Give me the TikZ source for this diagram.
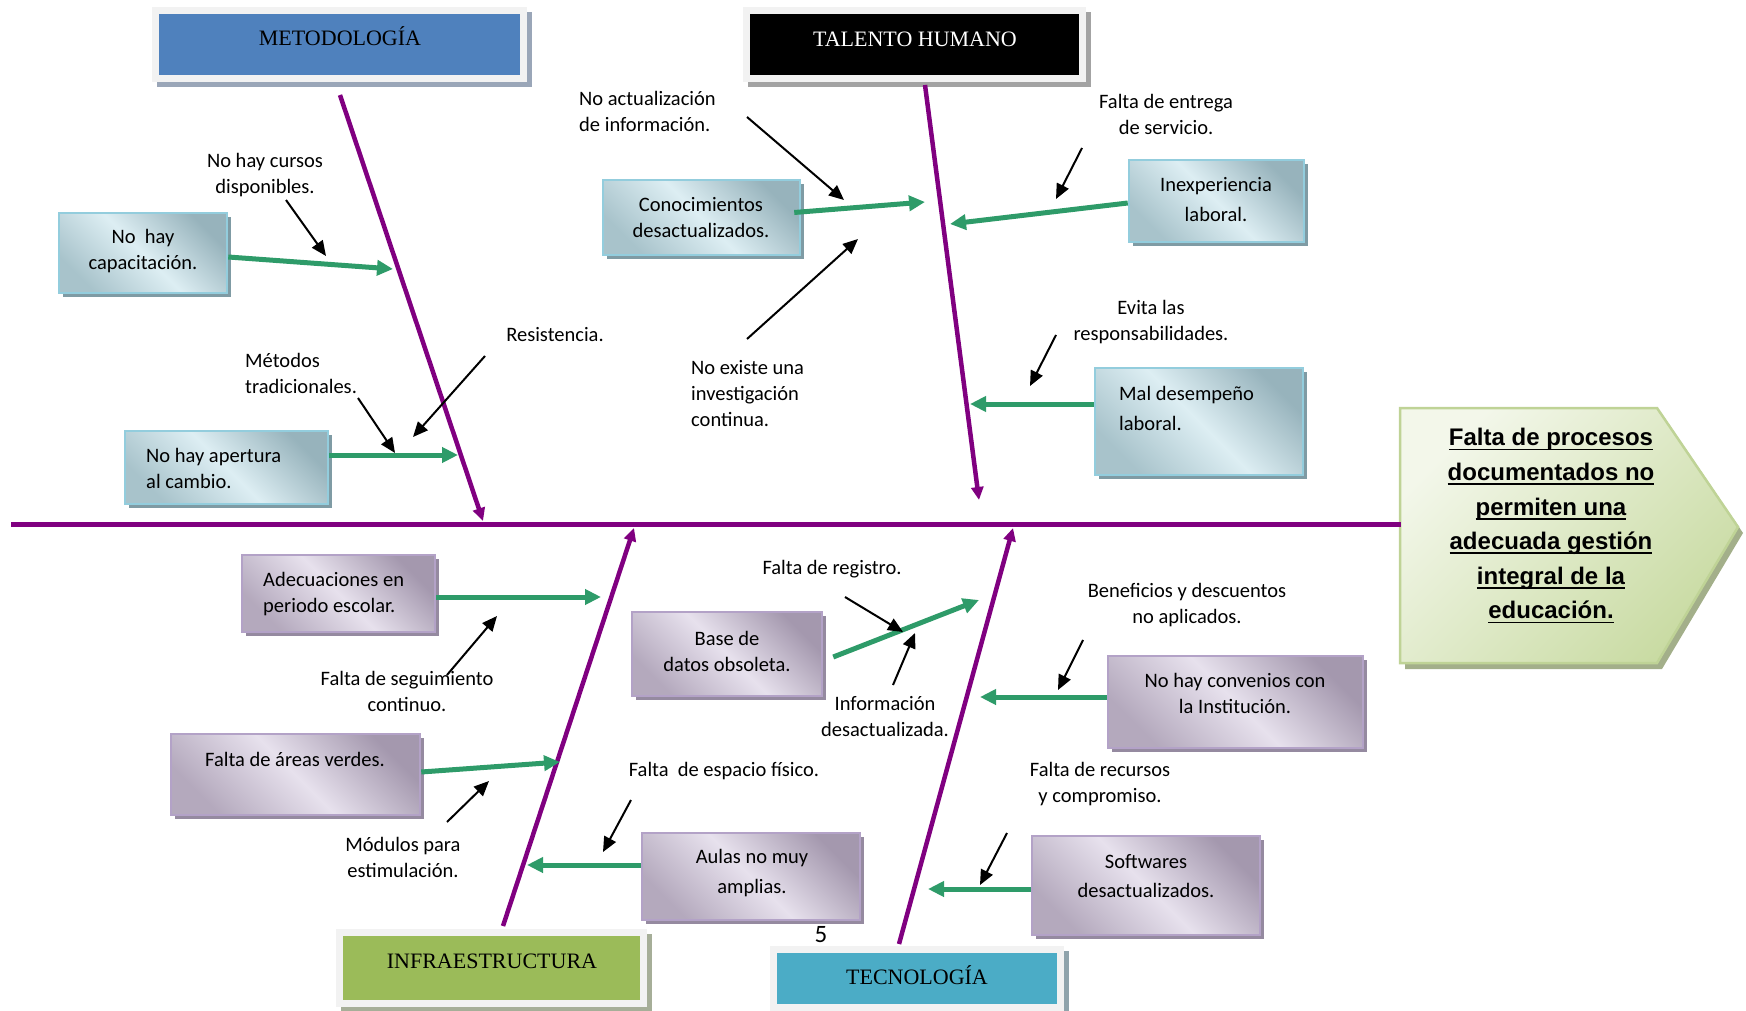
\documentclass[tikz,border=0pt]{standalone}
\usepackage{fontspec}
\setmainfont{Carlito}
\newfontfamily\catfont{Liberation Serif}
\newfontfamily\headfont{Liberation Sans}
\usetikzlibrary{arrows.meta,shadows}

\definecolor{bonepurple}{HTML}{800080}
\definecolor{feedgreen}{HTML}{2E9B69}
\definecolor{blueline}{HTML}{93CDDD}
\definecolor{bluedark}{HTML}{97B3BC}
\definecolor{bluelight}{HTML}{DDEEF3}
\definecolor{bluemid}{HTML}{A8C3CB}
\definecolor{blueshadow}{HTML}{7F9BA4}
\definecolor{purpline}{HTML}{B3A2C7}
\definecolor{purdark}{HTML}{A498AE}
\definecolor{purlight}{HTML}{E7E1ED}
\definecolor{purmid}{HTML}{B4A9BD}
\definecolor{purshadow}{HTML}{958AA0}
\definecolor{framegray}{HTML}{F2F2F2}
\definecolor{metblue}{HTML}{4F81BD}
\definecolor{metshadow}{HTML}{9AA6B8}
\definecolor{talshadow}{HTML}{A3A3A3}
\definecolor{infgreen}{HTML}{9BBB59}
\definecolor{infshadow}{HTML}{A6AE98}
\definecolor{tecblue}{HTML}{4BACC6}
\definecolor{tecshadow}{HTML}{8FA3AB}
\definecolor{headlight}{HTML}{F3F7EA}
\definecolor{headdark}{HTML}{C9DBA3}
\definecolor{headline}{HTML}{BFD396}
\definecolor{headshadow}{HTML}{A3AF8A}

% thick underline for the effect statement
\newcommand\headul[1]{\setbox0\hbox{#1}\rlap{\rule[-4.5pt]{\wd0}{1.8pt}}\box0}

\begin{document}
\begin{tikzpicture}[x=1pt,y=-1pt,
  spine/.style={draw=bonepurple, line width=4.5pt},
  bone/.style={draw=bonepurple, line width=4.5pt, -{Triangle[length=13pt,width=12pt]}},
  feed/.style={draw=feedgreen, line width=5pt, -{Triangle[length=16pt,width=15pt]}},
  note/.style={draw=black, line width=2pt, -{Triangle[length=15pt,width=13pt]}},
  txt/.style={font=\fontsize{20.5}{26}\selectfont, inner sep=0pt, align=center},
  txtl/.style={txt, align=left, anchor=west},
  cattxt/.style={font=\catfont\fontsize{22}{26}\selectfont, inner sep=0pt, anchor=base},
  catbox/.style={draw=framegray, line width=7pt, inner sep=0pt,
    general shadow={shadow xshift=5pt, shadow yshift=-5pt, fill=#1, draw=#1}},
  bluebox/.style={draw=blueline, line width=2.5pt, inner sep=0pt,
    top color=bluedark, bottom color=bluemid, middle color=bluelight, shading angle=-45,
    general shadow={shadow xshift=4pt, shadow yshift=-4pt, fill=blueshadow}},
  purbox/.style={draw=purpline, line width=2.5pt, inner sep=0pt,
    top color=purdark, bottom color=purmid, middle color=purlight, shading angle=-45,
    general shadow={shadow xshift=4pt, shadow yshift=-4pt, fill=purshadow}},
]
\useasboundingbox (0,0) rectangle (1746,1011);

% ---------- effect (head) ----------
\fill[headshadow] (1405,414) -- (1662,414) -- (1743,533) -- (1662,669) -- (1405,669) -- cycle;
\draw[headline, line width=2.5pt, top color=headlight, bottom color=headdark, shading angle=45]
  (1400,408) -- (1657,408) -- (1738,527) -- (1657,663) -- (1400,663) -- cycle;
\coordinate (headL) at (1401,524.5);
\coordinate (tail) at (11,524.5);
\node[font=\headfont\bfseries\fontsize{24}{34.6}\selectfont, align=center, inner sep=0pt]
  (effect) at (1551,526)
  {\headul{Falta de procesos}\\\headul{documentados no}\\\headul{permiten una}\\
   \headul{adecuada gestión}\\\headul{integral de la}\\\headul{educación.}};

% ---------- spine ----------
\draw[spine] (tail) -- (headL);

% ---------- categories ----------
\node[catbox=metshadow, fill=metblue, minimum width=368pt, minimum height=68pt] (met) at (339.5,44.5) {};
\node[cattxt] (metT) at (340,46) {METODOLOGÍA};
\node[catbox=talshadow, fill=black, minimum width=336pt, minimum height=68pt] (tal) at (914.5,44.5) {};
\node[cattxt, text=white] (talT) at (915,47) {TALENTO HUMANO};
\node[catbox=infshadow, fill=infgreen, minimum width=304pt, minimum height=71pt] (inf) at (491.5,968) {};
\node[cattxt] (infT) at (492,968) {INFRAESTRUCTURA};
\node[catbox=tecshadow, fill=tecblue, minimum width=287pt, minimum height=58pt] (tec) at (917,978.5) {};
\node[cattxt] (tecT) at (917,984) {TECNOLOGÍA};

\node[font=\fontsize{25}{28}\selectfont, inner sep=0pt] (pagenum) at (821,935) {5};

% ---------- bones ----------
\coordinate (metA) at (340,95);   \coordinate (metB) at (483,521);
\coordinate (talA) at (925,85);   \coordinate (talB) at (979,500);
\coordinate (infA) at (503,926);  \coordinate (infB) at (634,528);
\coordinate (tecA) at (899,944);  \coordinate (tecB) at (1013,528);
\draw[bone] (metA) -- (metB);
\draw[bone] (talA) -- (talB);
\draw[bone] (infA) -- (infB);
\draw[bone] (tecA) -- (tecB);

% ---------- causes ----------
\node[bluebox, minimum width=168pt, minimum height=80pt] (b1) at (143,253) {};
\node[txt] (t1) at (143,251) {No\ \ hay\\capacitación.};
\node[bluebox, minimum width=203pt, minimum height=73pt] (b2) at (226.5,467.5) {};
\node[txtl] (t2) at (146,468) {No hay apertura\\al cambio.};
\node[bluebox, minimum width=197pt, minimum height=75pt] (b3) at (701.5,217.5) {};
\node[txt] (t3) at (701,218) {Conocimientos\\desactualizados.};
\node[bluebox, minimum width=175pt, minimum height=82pt] (b4) at (1216.5,201) {};
\node[txt, font=\fontsize{20.5}{30}\selectfont] (t4) at (1216,200) {Inexperiencia\\laboral.};
\node[bluebox, minimum width=208pt, minimum height=107pt] (b5) at (1199,421.5) {};
\node[txtl, font=\fontsize{20.5}{30}\selectfont] (t5) at (1119,408) {Mal desempeño\\laboral.};

\node[purbox, minimum width=193pt, minimum height=77pt] (b6) at (338.5,593.5) {};
\node[txtl] (t6) at (263,594.5) {Adecuaciones en\\periodo escolar.};
\node[purbox, minimum width=249pt, minimum height=81pt] (b7) at (295.5,774.5) {};
\node[txt] (t7) at (295,759) {Falta de áreas verdes.};
\node[purbox, minimum width=190pt, minimum height=84pt] (b8) at (727,654) {};
\node[txt] (t8) at (727,651) {Base de\\datos obsoleta.};
\node[purbox, minimum width=255pt, minimum height=92pt] (b9) at (1235.5,702) {};
\node[txt] (t9) at (1235,693) {No hay convenios con\\la Institución.};
\node[purbox, minimum width=218pt, minimum height=87pt] (b10) at (751,876.5) {};
\node[txt, font=\fontsize{20.5}{30}\selectfont] (t10) at (752,873) {Aulas no muy\\amplias.};
\node[purbox, minimum width=228pt, minimum height=99pt] (b11) at (1146,885.5) {};
\node[txt, font=\fontsize{20.5}{29}\selectfont] (t11) at (1146,876.5) {Softwares\\desactualizados.};

% ---------- cause arrows onto the bones ----------
\coordinate (g1) at (393,269);
\coordinate (g2) at (458,455);
\coordinate (g3) at (925,202);
\coordinate (g4) at (950,224);
\coordinate (g5) at (970,404);
\coordinate (g6) at (601,597);
\coordinate (g7) at (560,762);
\coordinate (g8) at (979,600);
\coordinate (g9) at (980,697);
\coordinate (g10) at (527,865);
\coordinate (g11) at (928,889);
\draw[feed] ([yshift=-4pt]b1.east) -- (g1);
\draw[feed] ([yshift=12.5pt]b2.east) -- (g2);
\draw[feed] ([yshift=5pt,xshift=-7pt]b3.east) -- (g3);
\draw[feed] ([yshift=-2pt]b4.west) -- (g4);
\draw[feed] ([yshift=17.5pt]b5.west) -- (g5);
\draw[feed] ([yshift=-3.5pt]b6.east) -- (g6);
\draw[feed] ([yshift=2.5pt]b7.east) -- (g7);
\draw[feed] ([xshift=10pt,yshift=-3pt]b8.east) -- (g8);
\draw[feed] ([yshift=5pt]b9.west) -- (g9);
\draw[feed] ([yshift=11.5pt]b10.west) -- (g10);
\draw[feed] ([yshift=-3.5pt]b11.west) -- (g11);

% ---------- sub-cause notes ----------
\node[txt] (lA) at (265,175.5) {No hay cursos\\disponibles.};
\node[txt] (lB) at (555,335) {Resistencia.};
\node[txtl] (lC) at (245,373) {Métodos\\tradicionales.};
\node[txtl] (lD) at (579,111) {No actualización\\de información.};
\node[txtl] (lE) at (691,393.5) {No existe una\\investigación\\continua.};
\node[txt] (lF) at (1166,114.5) {Falta de entrega\\de servicio.};
\node[txt] (lG) at (1151,322.5) {Evita las\\responsabilidades.};
\node[txt] (lH) at (407,691) {Falta de seguimiento\\continuo.};
\node[txt] (lI) at (403,857) {Módulos para\\estimulación.};
\node[txt] (lJ) at (724,771) {Falta\ \ de espacio físico.};
\node[txt] (lK) at (832,569) {Falta de registro.};
\node[txt] (lL) at (885,717) {Información\\desactualizada.};
\node[txt] (lM) at (1187,605) {Beneficios y descuentos\\no aplicados.};
\node[txt] (lN) at (1100,784) {Falta de recursos\\y compromiso.};

\coordinate (nA0) at (286,200);   \coordinate (nA1) at (326,256);
\coordinate (nB0) at (485,356);   \coordinate (nB1) at (413,437);
\coordinate (nC0) at (358,398);   \coordinate (nC1) at (395,453);
\coordinate (nD0) at (747,117);   \coordinate (nD1) at (844,200);
\coordinate (nE0) at (747,339);   \coordinate (nE1) at (858,239);
\coordinate (nF0) at (1082,148);  \coordinate (nF1) at (1056,199);
\coordinate (nG0) at (1056,335);  \coordinate (nG1) at (1030,386);
\coordinate (nH0) at (447,675);   \coordinate (nH1) at (497,616);
\coordinate (nI0) at (447,822);   \coordinate (nI1) at (489,781);
\coordinate (nJ0) at (631,800);   \coordinate (nJ1) at (603,852);
\coordinate (nK0) at (845,597);   \coordinate (nK1) at (903,632);
\coordinate (nL0) at (893,685);   \coordinate (nL1) at (915,633);
\coordinate (nM0) at (1083,640);  \coordinate (nM1) at (1058,690);
\coordinate (nN0) at (1007,833);  \coordinate (nN1) at (980,885);
\foreach \n in {A,B,C,D,E,F,G,H,I,J,K,L,M,N}
  \draw[note] (n\n0) -- (n\n1);
\end{tikzpicture}
\end{document}
